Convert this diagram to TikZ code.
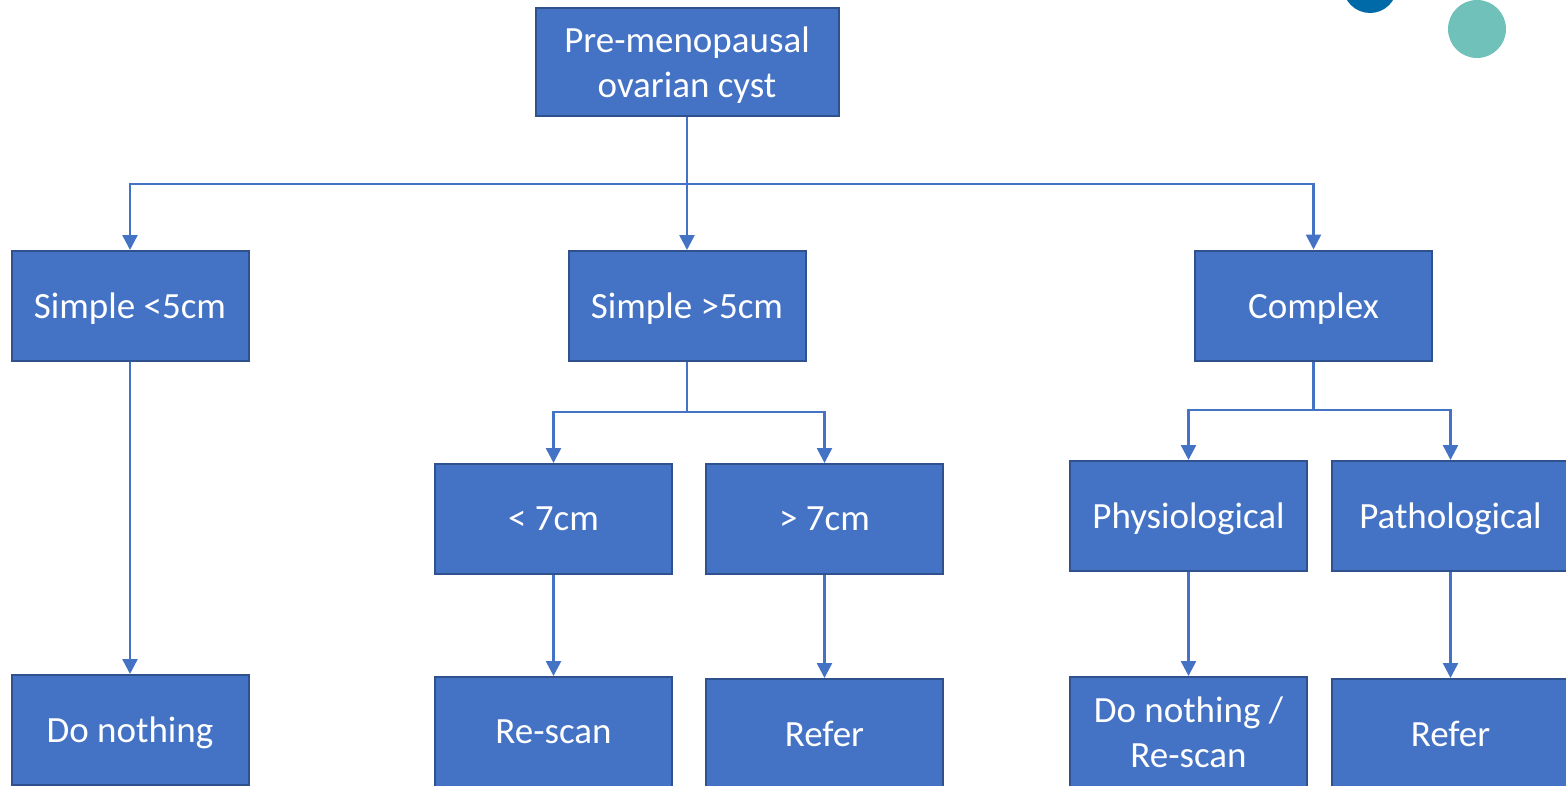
\documentclass[tikz,border=0pt]{standalone}
\usepackage{fontspec}
\setmainfont{Carlito}
\usetikzlibrary{arrows.meta}
\definecolor{boxfill}{HTML}{4472C4}
\definecolor{boxline}{HTML}{2F528F}
\definecolor{dotdark}{HTML}{0069A8}
\definecolor{dotteal}{HTML}{70C1B9}
\definecolor{dotmid}{HTML}{2090C2}
\begin{document}
\begin{tikzpicture}[x=1pt,y=-1pt,
  flowbox/.style={rectangle, fill=boxfill, draw=boxline, line width=2pt,
    minimum width=237pt, minimum height=110pt, inner sep=0pt, text depth=0pt,
    text=white, align=center, font=\fontsize{37}{45}\selectfont},
  arr/.style={draw=boxfill, line width=2.5pt, -{Triangle[width=15pt,length=15pt]}},
  conn/.style={draw=boxfill, line width=2.5pt}]
\useasboundingbox (0,0) rectangle (1566,785);
\clip (0,0) rectangle (1566,785);
% decorative dots
\fill[dotdark] (1370,-14) circle (27);
\fill[dotteal] (1477,29) circle (29);
\fill[dotmid] (1598,-25) circle (40);
% boxes
\node[flowbox, minimum width=303pt, minimum height=108pt] (pre) at (687,62) {Pre-menopausal\\ovarian cyst};
\node[flowbox] (s5) at (130,306) {Simple <5cm};
\node[flowbox] (s5b) at (687,306) {Simple >5cm};
\node[flowbox] (cx) at (1313.5,305.5) {Complex};
\node[flowbox] (l7) at (553.5,519) {< 7cm};
\node[flowbox] (g7) at (824.5,519) {> 7cm};
\node[flowbox] (phy) at (1188.5,516) {Physiological};
\node[flowbox] (pat) at (1450.5,516) {Pathological};
\node[flowbox] (dn) at (130,730) {Do nothing};
\node[flowbox] (rs) at (553.5,732) {Re-scan};
\node[flowbox] (rf1) at (824.5,734) {Refer};
\node[flowbox] (dnr) at (1188.5,732) {Do nothing /\\Re-scan};
\node[flowbox] (rf2) at (1450.5,734) {Refer};
% junctions
\coordinate (j1) at (687,184);
\coordinate (j2) at (687,412);
\coordinate (j3) at (1313.5,410);
% connectors
\draw[conn] (pre.south) -- (j1);
\draw[arr] (j1) -| (s5.north);
\draw[arr] (j1) -- (s5b.north);
\draw[arr] (j1) -| (cx.north);
\draw[conn] (s5b.south) -- (j2);
\draw[arr] (j2) -| (l7.north);
\draw[arr] (j2) -| (g7.north);
\draw[conn] (cx.south) -- (j3);
\draw[arr] (j3) -| (phy.north);
\draw[arr] (j3) -| (pat.north);
\draw[arr] (s5.south) -- (dn.north);
\draw[arr] (l7.south) -- (rs.north);
\draw[arr] (g7.south) -- (rf1.north);
\draw[arr] (phy.south) -- (dnr.north);
\draw[arr] (pat.south) -- (rf2.north);
\end{tikzpicture}
\end{document}
